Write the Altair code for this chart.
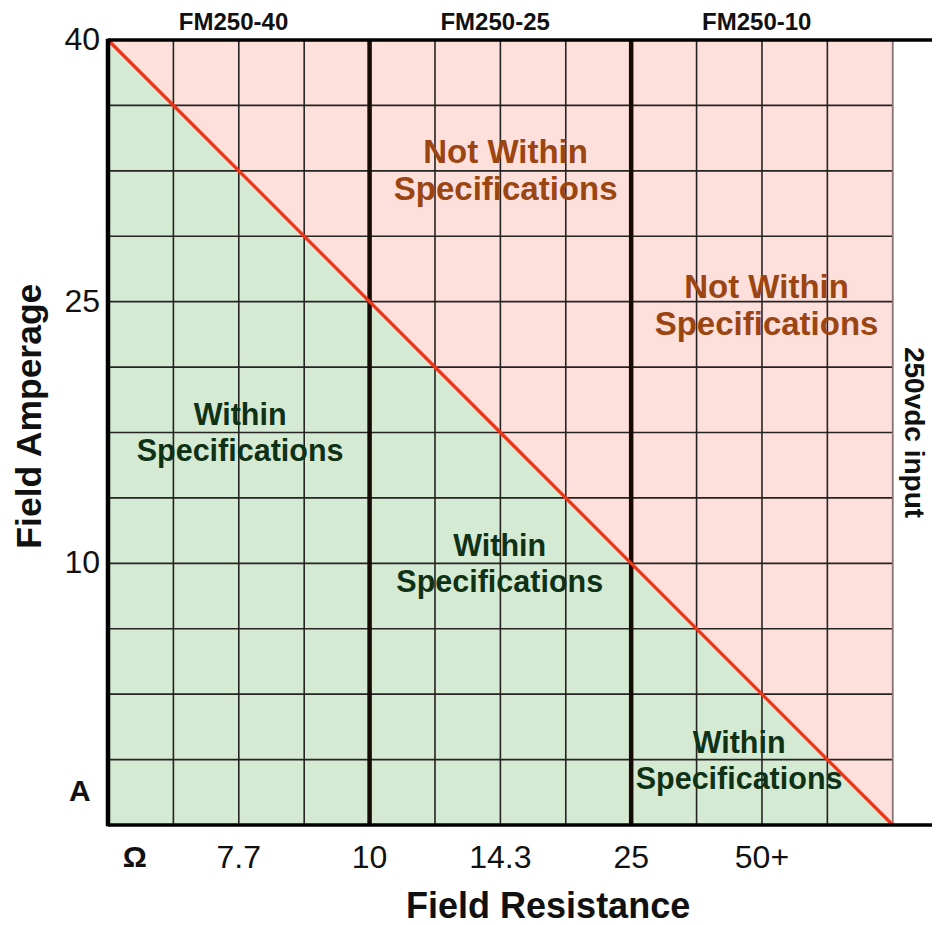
import altair as alt
import pandas as pd

FONT = "Liberation Sans"

# ---- chart data (grid units: 12 columns x 12 rows) ----
X_MAX = 12.6
Y_MAX = 12
amp_tick_pos = [12, 8, 4]
amp_tick_labels = ["40", "25", "10"]
res_tick_pos = [2, 4, 6, 8, 10]
res_tick_labels = ["7.7", "10", "14.3", "25", "50+"]
model_pos = [1.92, 5.92, 9.92]
model_labels = ["FM250-40", "FM250-25", "FM250-10"]
limit_x = [0, 12]
limit_y = [12, 0]
minor_cols = [1, 2, 3, 5, 6, 7, 9, 10, 11]
major_cols = [4, 8]
grid_rows = [1, 2, 3, 4, 5, 6, 7, 8, 9, 10, 11]
edge_col = [12]

not_within_x = [6.08, 10.07]
not_within_y = [10.0, 7.93]
within_x = [2.02, 5.99, 9.65]
within_y = [5.98, 3.97, 0.96]

GREEN = "#d5ead3"
PINK = "#fde0dc"
RED = "#ee3418"
GRID = "#262323"
BROWN = "#9b4612"
DKGREEN = "#0f3216"

xs = alt.Scale(domain=[0, X_MAX], nice=False, zero=False)
ys = alt.Scale(domain=[0, Y_MAX], nice=False, zero=False)
X = alt.X("x:Q", scale=xs, axis=None)
Y = alt.Y("y:Q", scale=ys, axis=None)
X2 = alt.X2("x2:Q")
Y2 = alt.Y2("y2:Q")

green_df = pd.DataFrame({"x": limit_x, "y": limit_y, "y2": [0, 0]})
pink_df = pd.DataFrame({"x": limit_x, "y": limit_y, "y2": [Y_MAX, Y_MAX]})
limit = pd.DataFrame({"x": limit_x, "y": limit_y})

green = alt.Chart(green_df).mark_area(color=GREEN, opacity=1).encode(x=X, y=Y, y2=Y2)
pink = alt.Chart(pink_df).mark_area(color=PINK, opacity=1).encode(x=X, y=Y, y2=Y2)


def vrules(cols, y0=0, y1=Y_MAX, **kw):
    df = pd.DataFrame({"x": cols, "y": [y0] * len(cols), "y2": [y1] * len(cols)})
    return alt.Chart(df).mark_rule(**kw).encode(x=X, y=Y, y2=Y2)


def hrules(rows, x0=0, x1=12, **kw):
    df = pd.DataFrame({"y": rows, "x": [x0] * len(rows), "x2": [x1] * len(rows)})
    return alt.Chart(df).mark_rule(**kw).encode(y=Y, x=X, x2=X2)


vgrid = vrules(minor_cols, color=GRID, strokeWidth=1.6)
hgrid = hrules(grid_rows, color=GRID, strokeWidth=1.6)
edge = vrules(edge_col, color="#8a7474", strokeWidth=1.8)
major = vrules(major_cols, color="#160a04", strokeWidth=4.5)

diag = alt.Chart(limit).mark_line(color=RED, strokeWidth=3.2).encode(x=X, y=Y)

top_b = hrules([Y_MAX], 0, X_MAX, color="black", strokeWidth=3.5)
bot_b = hrules([0], 0, X_MAX, color="black", strokeWidth=3.5)
left_b = vrules([0], -0.02, Y_MAX + 0.02, color="black", strokeWidth=4.5)


def text_layer(df, **kw):
    return alt.Chart(df).mark_text(font=FONT, **kw).encode(x=X, y=Y, text="t:N")


nw = text_layer(pd.DataFrame({"x": not_within_x, "y": not_within_y,
                              "t": ["Not Within\nSpecifications"] * 2}),
                fontSize=33, fontWeight="bold", color=BROWN, lineBreak="\n", lineHeight=37,
                baseline="middle", dy=-18)
wi = text_layer(pd.DataFrame({"x": within_x, "y": within_y,
                              "t": ["Within\nSpecifications"] * 3}),
                fontSize=30.5, fontWeight="bold", color=DKGREEN, lineBreak="\n", lineHeight=36,
                baseline="middle", dy=-18)

models = text_layer(pd.DataFrame({"x": model_pos, "y": [12.265] * 3, "t": model_labels}),
                    fontSize=24, fontWeight="bold", color="#111111", baseline="middle")

ylab = text_layer(pd.DataFrame({"x": [-0.12] * 3, "y": amp_tick_pos, "t": amp_tick_labels}),
                  fontSize=32, color="#111111", align="right", baseline="middle")
xlab = text_layer(pd.DataFrame({"x": res_tick_pos, "y": [-0.5] * 5, "t": res_tick_labels}),
                  fontSize=32, color="#111111", baseline="middle")
units = text_layer(pd.DataFrame({"x": [-0.43, 0.41], "y": [0.5, -0.5], "t": ["A", "Ω"]}),
                   fontSize=30, fontWeight="bold", color="#111111", baseline="middle")

ytitle = text_layer(pd.DataFrame({"x": [-1.19], "y": [6.25], "t": ["Field Amperage"]}),
                    fontSize=35.5, fontWeight="bold", color="#111111", angle=270, baseline="middle")
xtitle = text_layer(pd.DataFrame({"x": [6.73], "y": [-1.25], "t": ["Field Resistance"]}),
                    fontSize=36, fontWeight="bold", color="#111111", baseline="middle")
vdc = text_layer(pd.DataFrame({"x": [12.31], "y": [6.0], "t": ["250vdc input"]}),
                 fontSize=28, fontWeight="bold", color="#111111", angle=90, baseline="middle")

chart = alt.layer(
    green, pink, vgrid, hgrid, edge, major, diag, top_b, bot_b, left_b,
    nw, wi, models, ylab, xlab, units, ytitle, xtitle, vdc,
).properties(
    width=824, height=785,
    autosize=alt.AutoSizeParams(type="none"),
    padding={"left": 100, "top": 32, "right": 0, "bottom": 100},
).configure_view(stroke=None).configure(background="white")

chart.save("out.html", embed_options={"renderer": "svg", "actions": False})
